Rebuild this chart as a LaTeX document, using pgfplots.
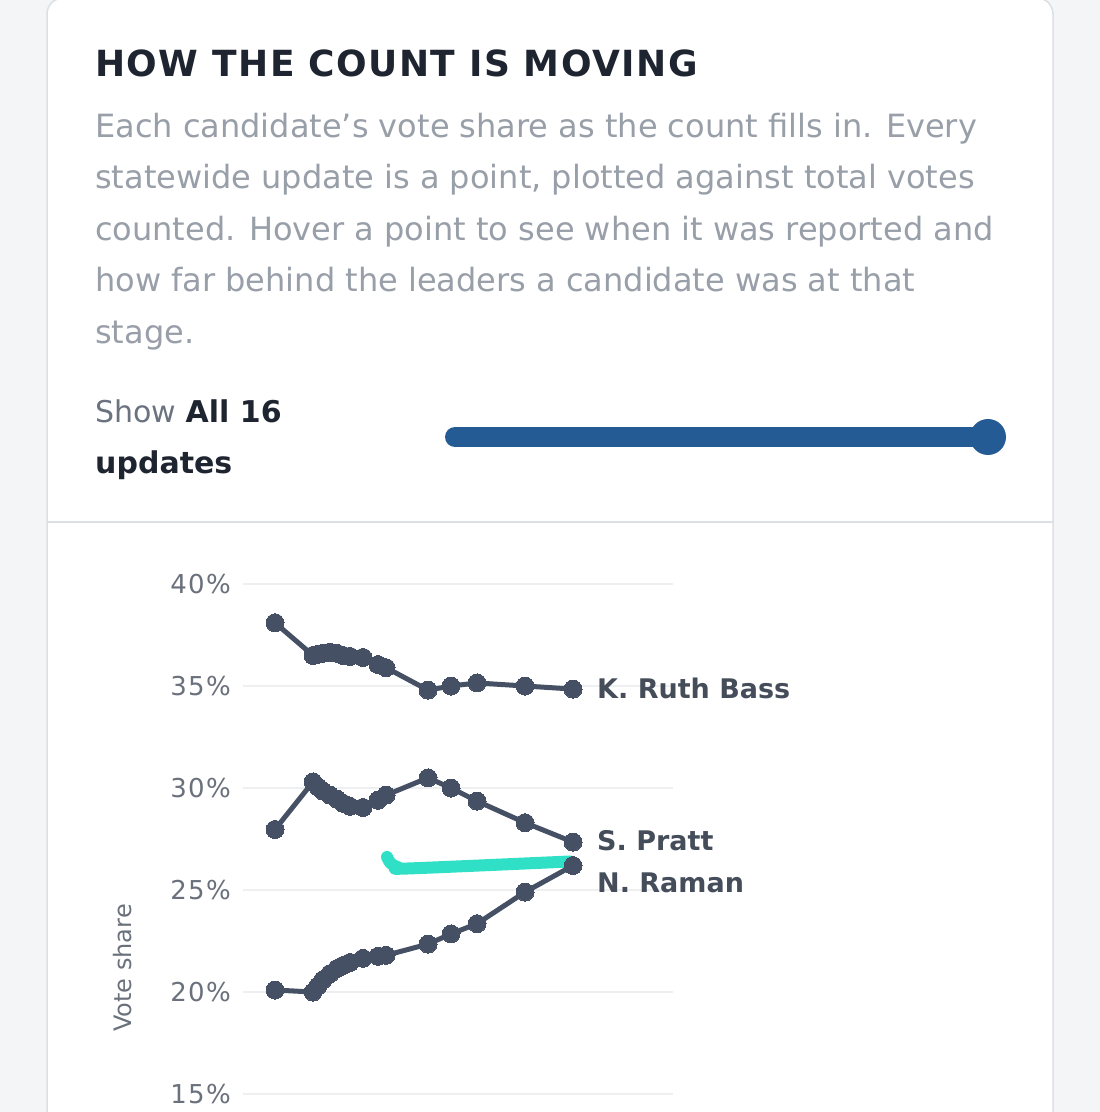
\documentclass[border=0pt]{standalone}
\usepackage{fontspec}
\setmainfont{DejaVu Sans}
\usepackage{pgfplots}
\pgfplotsset{compat=1.18}
\definecolor{pagebg}{HTML}{F4F5F7}
\definecolor{cardline}{HTML}{DCDFE4}
\definecolor{titlec}{HTML}{1F2530}
\definecolor{descc}{HTML}{989FA8}
\definecolor{showc}{HTML}{6B7280}
\definecolor{slider}{HTML}{245B94}
\definecolor{series}{HTML}{465064}
\definecolor{teal}{HTML}{30E0C6}
\definecolor{gridc}{HTML}{EEEFF1}
\definecolor{tickc}{HTML}{6B717C}
\definecolor{labc}{HTML}{454D5B}
\begin{document}
\begin{tikzpicture}
\useasboundingbox (0bp,0bp) rectangle (1100bp,-1112bp);
\clip (0bp,0bp) rectangle (1100bp,-1112bp);
\begin{scope}[x=1bp,y=1bp]
\fill[pagebg] (0,0) rectangle (1100,-1112);
\filldraw[fill=white,draw=cardline,line width=1.5bp,rounded corners=16bp] (47,2) rectangle (1053,-1140);
\draw[cardline,line width=1.5bp] (47,-522) -- (1053,-522);
\node[anchor=base west,inner sep=0pt,text=titlec] at (95,-76) {\fontsize{36bp}{40bp}\selectfont\addfontfeatures{LetterSpace=4}\bfseries HOW THE COUNT IS MOVING};
\begin{scope}[every node/.style={anchor=base west,inner sep=0pt,text=descc}]
\node at (95,-137) {\fontsize{32bp}{40bp}\selectfont Each candidate's vote share as the count fills in. Every};
\node at (95,-188.5) {\fontsize{32bp}{40bp}\selectfont statewide update is a point, plotted against total votes};
\node at (95,-240) {\fontsize{32bp}{40bp}\selectfont counted. Hover a point to see when it was reported and};
\node at (95,-291.5) {\fontsize{32bp}{40bp}\selectfont how far behind the leaders a candidate was at that};
\node at (95,-343) {\fontsize{32bp}{40bp}\selectfont stage.};
\end{scope}
\node[anchor=base west,inner sep=0pt] at (95,-422) {\fontsize{30bp}{40bp}\selectfont\textcolor{showc}{Show} \textcolor{titlec}{\bfseries All 16}};
\node[anchor=base west,inner sep=0pt] at (95,-473) {\fontsize{30bp}{40bp}\selectfont\textcolor{titlec}{\bfseries updates}};
\draw[slider,line width=20bp,line cap=round] (455,-437) -- (985,-437);
\fill[slider] (988,-437) circle (18);
\node[rotate=90,text=tickc,inner sep=0pt] at (123,-968) {\fontsize{24bp}{30bp}\selectfont Vote share};
\end{scope}
\begin{axis}[
  at={(243bp,-1112bp)}, anchor=south west,
  scale only axis, width=430bp, height=538bp,
  xmin=243, xmax=673, ymin=14.12, ymax=40.49,
  axis line style={draw=none},
  major tick length=0pt,
  xtick=\empty,
  ytick={15,20,25,30,35,40},
  yticklabel={\pgfmathprintnumber{\tick}\%},
  /pgf/number format/assume math mode=true,
  yticklabel style={anchor=east,inner sep=0pt,xshift=-12bp,text=tickc,font=\fontsize{26bp}{30bp}\selectfont\addfontfeatures{LetterSpace=5}},
  ymajorgrids, grid style={gridc,line width=1.5bp},
  clip=false,
]
\addplot[teal,line width=12bp,line cap=round,line join=round,smooth,tension=0.6] coordinates {
(387,26.62) (391,26.3) (399,26.1) (410,26.06) (570,26.4)
};
\addplot[series,line width=5bp,mark=*,mark size=9bp,mark options={fill=series,draw=series,line width=0pt}] coordinates {
(275,38.1) (313,36.5) (318,36.55) (323,36.6) (330,36.65) (337,36.6) (343,36.5) (350,36.45) (363,36.4) (378,36.05) (386,35.9) (428,34.8) (451,35.0) (477,35.15) (525,35.0) (573,34.85)
};
\addplot[series,line width=5bp,mark=*,mark size=9bp,mark options={fill=series,draw=series,line width=0pt}] coordinates {
(275,27.97) (313,30.3) (318,30.05) (323,29.85) (330,29.65) (337,29.45) (343,29.25) (350,29.1) (363,29.05) (378,29.4) (386,29.65) (428,30.5) (451,30.0) (477,29.36) (525,28.3) (573,27.35)
};
\addplot[series,line width=5bp,mark=*,mark size=9bp,mark options={fill=series,draw=series,line width=0pt}] coordinates {
(275,20.1) (313,20.0) (318,20.3) (323,20.6) (330,20.9) (337,21.15) (343,21.3) (350,21.45) (363,21.65) (378,21.75) (386,21.8) (428,22.35) (451,22.85) (477,23.35) (525,24.9) (573,26.2)
};
\node[anchor=west,inner sep=0pt,text=labc,font=\fontsize{27bp}{30bp}\selectfont\bfseries] at (axis cs:597,34.9) {K. Ruth Bass};
\node[anchor=west,inner sep=0pt,text=labc,font=\fontsize{27bp}{30bp}\selectfont\bfseries] at (axis cs:597,27.4) {S. Pratt};
\node[anchor=west,inner sep=0pt,text=labc,font=\fontsize{27bp}{30bp}\selectfont\bfseries] at (axis cs:597,25.35) {N. Raman};
\end{axis}
\end{tikzpicture}
\end{document}
